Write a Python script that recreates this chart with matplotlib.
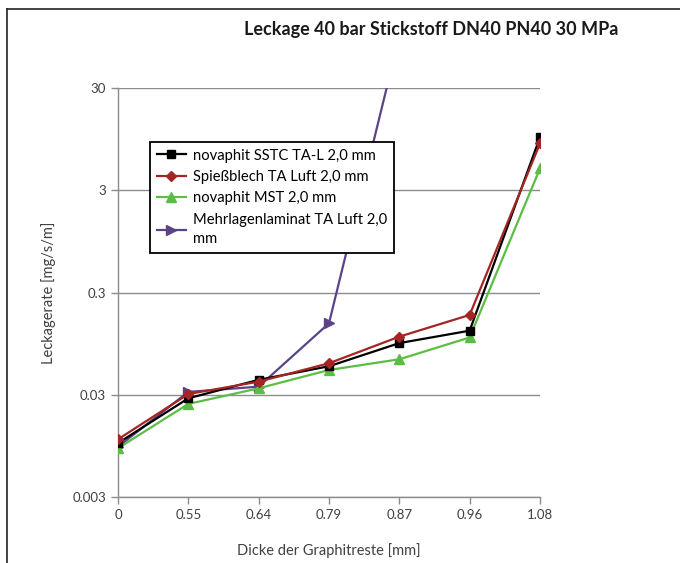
import matplotlib
matplotlib.use("Agg")
import matplotlib.pyplot as plt
import numpy as np
from matplotlib.lines import Line2D

plt.rcParams['font.family'] = ['Lato', 'DejaVu Sans']

# thickness of graphite residue (categories)
dicke = ["0", "0.55", "0.64", "0.79", "0.87", "0.96", "1.08"]

# leakage rates [mg/s/m]
sstc = [0.0101, 0.0277, 0.042, 0.057, 0.096, 0.127, 9.9]
spiess = [0.011, 0.0305, 0.0403, 0.061, 0.111, 0.181, 8.6]
mst = [0.009, 0.0244, 0.0347, 0.0524, 0.0667, 0.109, 4.9]
laminat = [0.0093, 0.032, 0.036, 0.15, 96.0, np.nan, np.nan]

names = ["novaphit SSTC TA-L 2,0 mm", "Spießblech TA Luft 2,0 mm",
         "novaphit MST 2,0 mm", "Mehrlagenlaminat TA Luft 2,0\nmm"]

fig = plt.figure(figsize=(6.8, 5.63), dpi=100)
ax = fig.add_axes([0.1735, 0.1172, 0.6206, 0.7265])

x = np.arange(len(dicke))
ax.plot(x, sstc, color='black', lw=1.6, marker='s', ms=6, label=names[0], zorder=4)
ax.plot(x, spiess, color='#A52524', lw=1.6, marker='D', ms=5, label=names[1], zorder=5)
ax.plot(x, mst, color='#5CBD45', lw=1.6, marker='^', ms=7, label=names[2], zorder=3)
ax.plot(x, laminat, color='#5B4388', lw=1.6, marker='>', ms=7, label=names[3], zorder=2)

ax.set_yscale('log')
ax.set_ylim(0.003, 30)
ax.set_xlim(0, len(dicke) - 1)
ax.set_yticks([0.003, 0.03, 0.3, 3, 30])
ax.set_yticklabels(["0.003", "0.03", "0.3", "3", "30"])
ax.yaxis.set_minor_locator(matplotlib.ticker.NullLocator())
ax.set_xticks(x)
ax.set_xticklabels(dicke)

ax.grid(axis='y', color='#8c8c8c', lw=1.0)
ax.set_axisbelow(True)
for s in ['top', 'right']:
    ax.spines[s].set_visible(False)
for s in ['left', 'bottom']:
    ax.spines[s].set_color('#8c8c8c')
    ax.spines[s].set_linewidth(1.0)
ax.tick_params(colors='#8c8c8c', labelcolor='#404040', labelsize=9.5, length=5, width=1.0)

ax.set_ylabel("Leckagerate [mg/s/m]", fontsize=10.5, color='#404040', labelpad=12)
ax.set_xlabel("Dicke der Graphitreste [mm]", fontsize=10.5, color='#404040', labelpad=16)

fig.text(0.634, 0.948, "Leckage 40 bar Stickstoff DN40 PN40 30 MPa",
         ha='center', va='center', fontsize=13, fontweight='bold', color='#1a1a1a')

leg = ax.legend(loc='upper left', bbox_to_anchor=(150 / 680, 1 - 142 / 563),
                bbox_transform=fig.transFigure, borderaxespad=0, fontsize=10.6,
                frameon=True, fancybox=False, framealpha=1, edgecolor='black',
                handlelength=2.0, handletextpad=0.5, borderpad=0.45,
                labelspacing=0.5)
leg.get_frame().set_linewidth(1.3)
for t in leg.get_texts():
    t.set_linespacing(1.5)

# outer chart frame (cropped at right and bottom)
fig.add_artist(Line2D([7 / 680, 1], [1 - 9 / 563, 1 - 9 / 563], color='#222222', lw=1.2))
fig.add_artist(Line2D([7 / 680, 7 / 680], [0, 1 - 9 / 563], color='#222222', lw=1.2))

fig.savefig("out.png", dpi=100)
